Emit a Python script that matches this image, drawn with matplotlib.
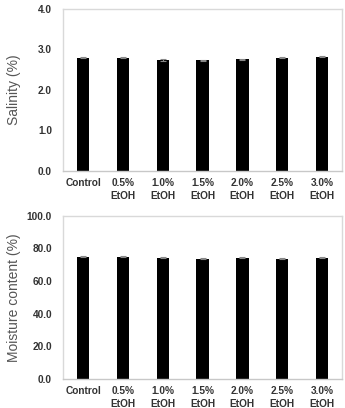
import matplotlib
matplotlib.use("Agg")
import matplotlib.pyplot as plt
import numpy as np

categories = ["Control", "0.5%\nEtOH", "1.0%\nEtOH", "1.5%\nEtOH", "2.0%\nEtOH", "2.5%\nEtOH", "3.0%\nEtOH"]
salinity = [2.80, 2.80, 2.74, 2.73, 2.76, 2.80, 2.82]
salinity_err = [0.01, 0.01, 0.03, 0.01, 0.01, 0.02, 0.01]
moisture = [75.0, 75.0, 74.4, 73.6, 74.4, 73.6, 74.4]
moisture_err = [0.3, 0.3, 0.4, 0.3, 0.3, 0.3, 0.3]

salinity_ticks = [0.0, 1.0, 2.0, 3.0, 4.0]
moisture_ticks = [0.0, 20.0, 40.0, 60.0, 80.0, 100.0]

fig = plt.figure(figsize=(3.45, 4.08), dpi=100)
ax1 = fig.add_axes([0.183, 0.581, 0.808, 0.397])
ax2 = fig.add_axes([0.183, 0.071, 0.808, 0.400])

def style(ax, values, errs, ticks, ylabel, fmt):
    x = np.arange(len(categories))
    ax.bar(x, values, width=0.31, color="black", yerr=errs,
           error_kw=dict(ecolor="#888888", elinewidth=0.8, capsize=2, capthick=0.8))
    ax.set_xlim(-0.5, len(categories) - 0.5)
    ax.set_ylim(ticks[0], ticks[-1])
    ax.set_yticks(ticks)
    ax.set_yticklabels([fmt.format(t) for t in ticks], fontfamily="Liberation Sans",
                       fontweight="bold", fontsize=7.3, color="#333333")
    ax.set_xticks(x)
    ax.set_xticklabels(categories, fontfamily="Liberation Sans", fontweight="bold",
                       fontsize=7.3, color="#333333", linespacing=1.35)
    ax.tick_params(length=0, pad=8)
    ax.tick_params(axis="x", pad=5)
    for s in ["left", "top", "right"]:
        ax.spines[s].set_color("#d9d9d9")
        ax.spines[s].set_linewidth(1.0)
    ax.spines["bottom"].set_color("#c8c8c8")
    ax.spines["bottom"].set_linewidth(1.0)
    ax.set_ylabel(ylabel, fontfamily="Liberation Sans", fontsize=10, color="#555555")

style(ax1, salinity, salinity_err, salinity_ticks, "Salinity (%)", "{:.1f}")
style(ax2, moisture, moisture_err, moisture_ticks, "Moisture content (%)", "{:.1f}")
ax1.yaxis.set_label_coords(-0.15, 0.5)
ax2.yaxis.set_label_coords(-0.15, 0.5)

fig.savefig("out.png", dpi=100)
